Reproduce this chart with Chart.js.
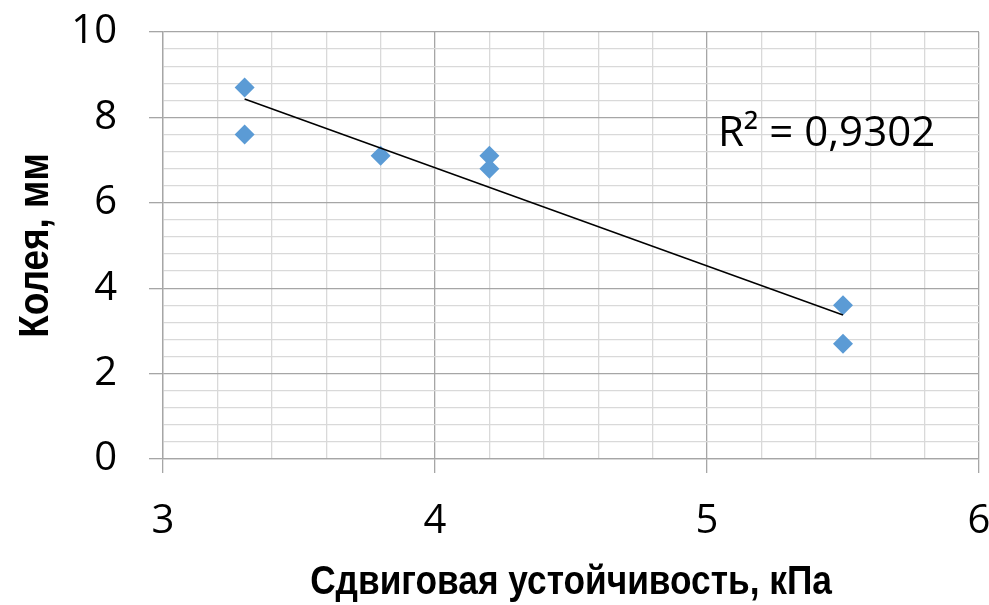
<!DOCTYPE html>
<html>
<head>
<meta charset="utf-8">
<script src="https://cdn.jsdelivr.net/npm/chart.js@4"></script>
<style>
  html, body { margin: 0; padding: 0; background: #fff; }
  #wrap { width: 989px; height: 605px; position: relative; }
</style>
</head>
<body>
<div id="wrap"><canvas id="chart"></canvas></div>
<script>
// Колея vs сдвиговая устойчивость
const xValues = [3.3, 3.3, 3.8, 4.2, 4.2, 5.5, 5.5];
const yValues = [8.7, 7.6, 7.1, 7.1, 6.8, 3.6, 2.7];
const xTicksMajor = [3, 4, 5, 6];
const yTicksMajor = [0, 2, 4, 6, 8, 10];
const xTitle = 'Сдвиговая устойчивость, кПа';
const yTitle = 'Колея, мм';

const TICK_FONT = { family: 'Open Sans, Lato, sans-serif', size: 40 };
const MAJOR = '#a6a6a6', MINOR = '#d9d9d9';

// least squares trend line
function linreg(xs, ys){
  const n = xs.length;
  const mx = xs.reduce((a,b)=>a+b,0)/n, my = ys.reduce((a,b)=>a+b,0)/n;
  let sxy = 0, sxx = 0, syy = 0;
  for(let i=0;i<n;i++){ const dx=xs[i]-mx, dy=ys[i]-my; sxy+=dx*dy; sxx+=dx*dx; syy+=dy*dy; }
  const k = sxy/sxx;
  return { k, b: my - k*mx, r2: sxy*sxy/(sxx*syy) };
}
const fit = linreg(xValues, yValues);
const xMin = Math.min(...xValues), xMax = Math.max(...xValues);
const trend = [xMin, xMax].map(x => ({ x, y: fit.k*x + fit.b }));
const r2Text = 'R² = ' + fit.r2.toFixed(4).replace('.', ',');

const isIn = (arr, v) => arr.some(t => Math.abs(t - v) < 1e-6);

// no Arial Narrow here, so squeeze Arial bold horizontally
function narrowText(ctx, text, size, squeeze, x, y, rot){
  ctx.save();
  ctx.font = 'bold ' + size + 'px "Liberation Sans", Arial, sans-serif';
  ctx.textAlign = 'center';
  ctx.textBaseline = 'alphabetic';
  ctx.translate(x, y);
  if (rot) ctx.rotate(rot);
  ctx.scale(squeeze, 1);
  ctx.fillText(text, 0, 0);
  ctx.restore();
}

const extras = {
  id: 'extras',
  afterDatasetsDraw(chart){
    const {ctx, chartArea: a, scales:{x, y}} = chart;
    ctx.save();
    ctx.fillStyle = '#000';
    ctx.textBaseline = 'alphabetic';
    ctx.font = '42px "Open Sans", Lato, sans-serif';
    ctx.fillText(r2Text, x.getPixelForValue(5.04), y.getPixelForValue(7.33));
    narrowText(ctx, xTitle, 41, 0.86, (a.left + a.right)/2, 594, 0);
    narrowText(ctx, yTitle, 42, 0.88, 48, (a.top + a.bottom)/2, -Math.PI/2);
    ctx.restore();
  }
};

new Chart(document.getElementById('chart'), {
  type: 'scatter',
  data: {
    datasets: [
      { data: xValues.map((x,i)=>({x, y: yValues[i]})), pointStyle: 'rectRot', pointRadius: 10,
        backgroundColor: '#5b9bd5', borderColor: '#5b9bd5', borderWidth: 0, order: 2 },
      { data: trend, showLine: true, pointRadius: 0, borderColor: '#000', borderWidth: 1.5, order: 1 }
    ]
  },
  options: {
    responsive: true,
    maintainAspectRatio: false,
    animation: false,
    layout: { padding: { top: 32, right: 8, left: 0, bottom: 0 } },
    plugins: { legend: { display: false }, tooltip: { enabled: false } },
    scales: {
      x: {
        type: 'linear', min: 3, max: 6,
        ticks: { stepSize: 0.2, autoSkip: false, maxRotation: 0, font: TICK_FONT, color: '#000', padding: 25,
          callback: v => isIn(xTicksMajor, v) ? String(Math.round(v)) : '' },
        grid: { color: c => isIn(xTicksMajor, c.tick.value) ? MAJOR : MINOR, lineWidth: 1.3,
          tickColor: c => isIn(xTicksMajor, c.tick.value) ? MAJOR : 'transparent', tickLength: 14 },
        border: { color: MAJOR, width: 1.3 },
        afterFit(s){ s.height = 146; s.paddingLeft = 0; s.paddingRight = 0; }
      },
      y: {
        type: 'linear', min: 0, max: 10,
        ticks: { stepSize: 0.4, autoSkip: false, font: TICK_FONT, color: '#000', padding: 32,
          callback: v => isIn(yTicksMajor, v) ? String(Math.round(v)) : '' },
        grid: { color: c => isIn(yTicksMajor, c.tick.value) ? MAJOR : MINOR, lineWidth: 1.3,
          tickColor: c => isIn(yTicksMajor, c.tick.value) ? MAJOR : 'transparent', tickLength: 14 },
        border: { color: MAJOR, width: 1.3 },
        afterFit(s){ s.width = 163; s.paddingTop = 0; s.paddingBottom = 0; }
      }
    }
  },
  plugins: [extras]
});
</script>
</body>
</html>
